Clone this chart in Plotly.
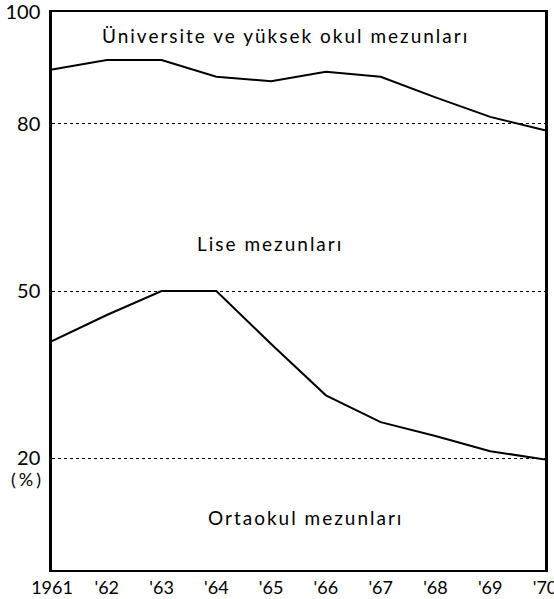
import plotly.graph_objects as go

years = [1961, 1962, 1963, 1964, 1965, 1966, 1967, 1968, 1969, 1970]
year_labels = ["1961", "'62", "'63", "'64", "'65", "'66", "'67", "'68", "'69", "'70"]
upper_boundary = [89.7, 91.4, 91.4, 88.4, 87.6, 89.3, 88.4, 84.7, 81.2, 78.8]
lower_boundary = [41.0, 45.7, 50.0, 50.0, 40.5, 31.3, 26.5, 24.0, 21.3, 19.8]
y_ticks = [20, 50, 80, 100]
y_tick_labels = ["20", "50", "80", "100"]
region_labels = ["Üniversite ve yüksek okul mezunları", "Lise mezunları", "Ortaokul mezunları"]
region_x = [1965.27, 1964.98, 1965.63]
region_y = [95.7, 58.5, 9.4]

FONT = "Lato"

def spaced(t, px=2):
    return '<span style="letter-spacing:%dpx">%s</span>' % (px, t)

fig = go.Figure()
for series in (upper_boundary, lower_boundary):
    fig.add_trace(go.Scatter(x=years, y=series, mode="lines",
                             line=dict(color="black", width=2), showlegend=False,
                             hoverinfo="skip"))

for txt, xx, yy in zip(region_labels, region_x, region_y):
    fig.add_annotation(x=xx, y=yy, text=spaced(txt, 2), showarrow=False,
                       font=dict(family=FONT, size=19, color="black"))

fig.add_annotation(xref="paper", x=0, y=20, text=spaced("(%)", 3), showarrow=False,
                   xanchor="right", yanchor="top", xshift=-6, yshift=-8,
                   font=dict(family=FONT, size=18, color="black"))

fig.update_xaxes(range=[1961, 1970], tickvals=years, ticktext=year_labels,
                 showgrid=False, zeroline=False, showline=True, mirror=True,
                 linecolor="black", linewidth=2, ticklabeloverflow="allow",
                 automargin=False, ticklabelstandoff=0,
                 tickfont=dict(family=FONT, size=18, color="black"))
fig.update_yaxes(range=[0, 100], tickvals=y_ticks, ticktext=y_tick_labels,
                 showgrid=True, gridcolor="black", gridwidth=1, griddash="dot",
                 zeroline=False, showline=True, mirror=True,
                 linecolor="black", linewidth=2.5, ticklabeloverflow="allow",
                 automargin=False, ticklabelstandoff=5,
                 tickfont=dict(family=FONT, size=20, color="black"))

fig.update_layout(width=554, height=599, plot_bgcolor="white", paper_bgcolor="white",
                  margin=dict(l=52, r=9, t=12, b=29))

fig.write_html("out.html", config={"displayModeBar": False},
               post_script="document.body.style.margin='0';document.body.style.overflow='hidden';")
